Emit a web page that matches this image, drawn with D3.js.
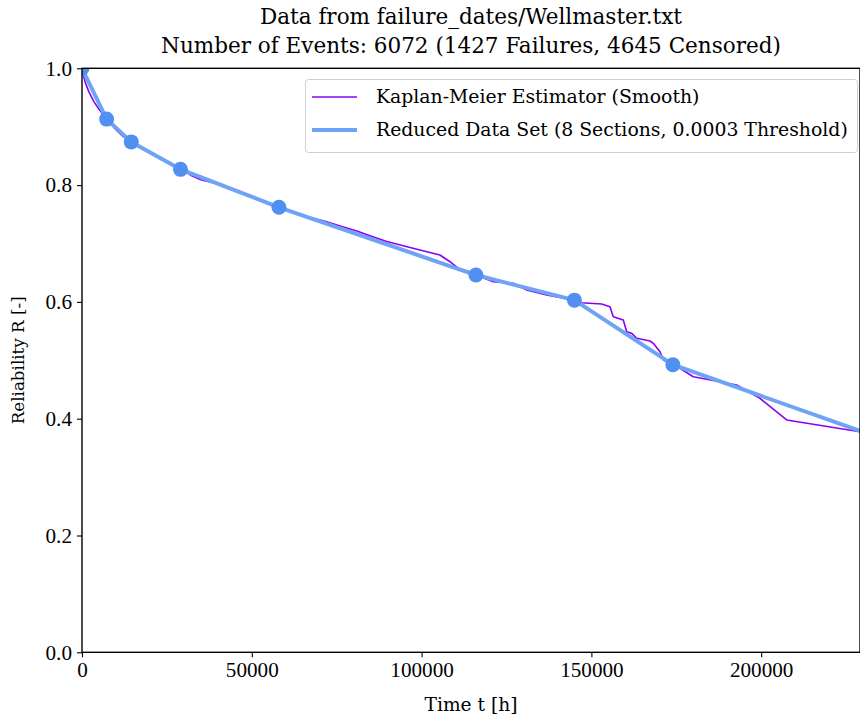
<!DOCTYPE html>
<html>
<head>
<meta charset="utf-8">
<script src="https://cdn.jsdelivr.net/npm/d3@7"></script>
<style>
  html, body { margin: 0; padding: 0; background: #fff; }
  svg text { font-family: "DejaVu Serif", "Liberation Serif", serif; fill: #000; }
  svg .tick text { font-family: "Liberation Serif", "DejaVu Serif", serif; }
</style>
</head>
<body>
<svg id="chart" width="860" height="719"></svg>
<script>
// Kaplan-Meier estimate (smoothed), time in hours
const kmTime = [0, 300, 1000, 2000, 3500, 5000, 7250, 10000, 12000, 14500, 18000, 22000, 26000, 29000,
  32000, 35000, 40000, 45000, 50000, 55000, 58000, 61250, 66000, 72050, 76000, 80890, 85000, 89720,
  97470, 105400, 108370, 110800, 114250, 116000, 121100, 127000, 130950, 136840, 144670, 147140,
  153030, 155470, 156450, 159390, 160400, 161870, 163340, 167260, 168230, 170200, 171170, 173650,
  176100, 180000, 183950, 192780, 199640, 207510, 229100];
const kmR = [1.0, 0.99, 0.975, 0.96, 0.943, 0.93, 0.913, 0.895, 0.884, 0.874, 0.862, 0.849, 0.836, 0.827,
  0.817, 0.809, 0.802, 0.790, 0.779, 0.768, 0.762, 0.7557, 0.7465, 0.7373, 0.7300, 0.7214, 0.7130, 0.7034,
  0.6918, 0.6803, 0.6688, 0.6575, 0.6517, 0.646, 0.6346, 0.6318, 0.6204, 0.6118, 0.6033, 0.5986,
  0.5964, 0.5918, 0.5747, 0.5690, 0.5490, 0.5462, 0.5377, 0.5330, 0.5291, 0.5147, 0.5005, 0.4932,
  0.4863, 0.4719, 0.4675, 0.4577, 0.4349, 0.3978, 0.3777];

// Reduced data set: section boundaries
const redTime = [0, 7250, 14500, 29000, 58000, 116000, 145000, 174000, 229100];
const redR = [1.0, 0.913, 0.874, 0.827, 0.762, 0.646, 0.603, 0.4925, 0.379];

const xTicks = [0, 50000, 100000, 150000, 200000];
const yTicks = [0.0, 0.2, 0.4, 0.6, 0.8, 1.0];

const titleLines = ["Data from failure_dates/Wellmaster.txt",
  "Number of Events: 6072 (1427 Failures, 4645 Censored)"];
const legendLabels = ["Kaplan-Meier Estimator (Smooth)",
  "Reduced Data Set (8 Sections, 0.0003 Threshold)"];

const kmColor = "#8a00f5";
const redLine = "#6fa3f5";
const redDot = "#5090f0";

const svg = d3.select("#chart");
const m = { left: 82, top: 68.3, right: 860, bottom: 652.3 };

const x = d3.scaleLinear().domain([0, 229100]).range([m.left, m.right]);
const y = d3.scaleLinear().domain([0, 1]).range([m.bottom, m.top]);

// size a group of text nodes so the widest one spans the given width
function fitWidth(sel, target) {
  sel.attr("font-size", 20);
  let w = 0;
  sel.each(function () { w = Math.max(w, this.getComputedTextLength()); });
  const size = 20 * target / w;
  sel.attr("font-size", size);
  return size;
}

svg.append("clipPath").attr("id", "plotclip")
  .append("rect").attr("x", m.left).attr("y", m.top)
  .attr("width", m.right - m.left).attr("height", m.bottom - m.top);

const plot = svg.append("g").attr("clip-path", "url(#plotclip)");

const km = kmTime.map((t, i) => [t, kmR[i]]);
const red = redTime.map((t, i) => [t, redR[i]]);
const line = d3.line().x(d => x(d[0])).y(d => y(d[1]));

plot.append("path").datum(km)
  .attr("d", line).attr("fill", "none")
  .attr("stroke", kmColor).attr("stroke-width", 1.6).attr("stroke-linejoin", "round");

plot.append("path").datum(red)
  .attr("d", line).attr("fill", "none")
  .attr("stroke", redLine).attr("stroke-width", 4).attr("stroke-linejoin", "round");

plot.selectAll("circle.pt").data(red.slice(0, 8)).enter().append("circle")
  .attr("class", "pt")
  .attr("cx", d => x(d[0])).attr("cy", d => y(d[1])).attr("r", 7.5)
  .attr("fill", redDot);

// Axes
const xAxis = d3.axisBottom(x).tickValues(xTicks).tickFormat(d3.format("d")).tickSize(5).tickPadding(5);
const yAxis = d3.axisLeft(y).tickValues(yTicks).tickFormat(d3.format(".1f")).tickSize(5).tickPadding(5);

const gx = svg.append("g").attr("transform", `translate(0,${m.bottom})`).call(xAxis);
const gy = svg.append("g").attr("transform", `translate(${m.left},0)`).call(yAxis);
[gx, gy].forEach(g => {
  g.select(".domain").remove();
  g.selectAll("line").attr("stroke", "#000").attr("stroke-width", 1.1);
  g.attr("font-family", null);
});
fitWidth(gx.selectAll("text"), 63.5);
fitWidth(gy.selectAll("text"), 26.5);

// frame
svg.append("rect").attr("x", m.left).attr("y", m.top)
  .attr("width", m.right - m.left).attr("height", m.bottom - m.top)
  .attr("fill", "none").attr("stroke", "#000").attr("stroke-width", 1.4);

// Axis labels
const xl = svg.append("text").attr("x", (m.left + m.right) / 2).attr("y", 711)
  .attr("text-anchor", "middle").text("Time t [h]");
fitWidth(xl, 93);
const yl = svg.append("text").attr("transform", `translate(24,${(m.top + m.bottom) / 2}) rotate(-90)`)
  .attr("text-anchor", "middle").text("Reliability R [-]");
fitWidth(yl, 128);

// Title
const tt = svg.selectAll("text.title").data(titleLines).enter().append("text")
  .attr("class", "title")
  .attr("x", (m.left + m.right) / 2).attr("y", (d, i) => 24 + i * 29)
  .attr("text-anchor", "middle").text(d => d);
fitWidth(tt, 620);

// Legend
const lg = svg.append("g");
lg.append("rect").attr("x", 305.5).attr("y", 79.5).attr("width", 552).attr("height", 73)
  .attr("rx", 3).attr("fill", "#fff").attr("fill-opacity", 0.8)
  .attr("stroke", "#d0d0d0").attr("stroke-width", 1);
const lgRows = [
  { color: kmColor, w: 1.6, label: legendLabels[0] },
  { color: redLine, w: 4, label: legendLabels[1] }
];
const lgText = [];
lgRows.forEach((r, i) => {
  const cy = 97 + i * 33;
  lg.append("line").attr("x1", 312).attr("x2", 357).attr("y1", cy).attr("y2", cy)
    .attr("stroke", r.color).attr("stroke-width", r.w);
  lgText.push(lg.append("text").attr("x", 376).attr("y", cy + 6).text(r.label).node());
});
fitWidth(d3.selectAll(lgText), 472);
</script>
</body>
</html>
